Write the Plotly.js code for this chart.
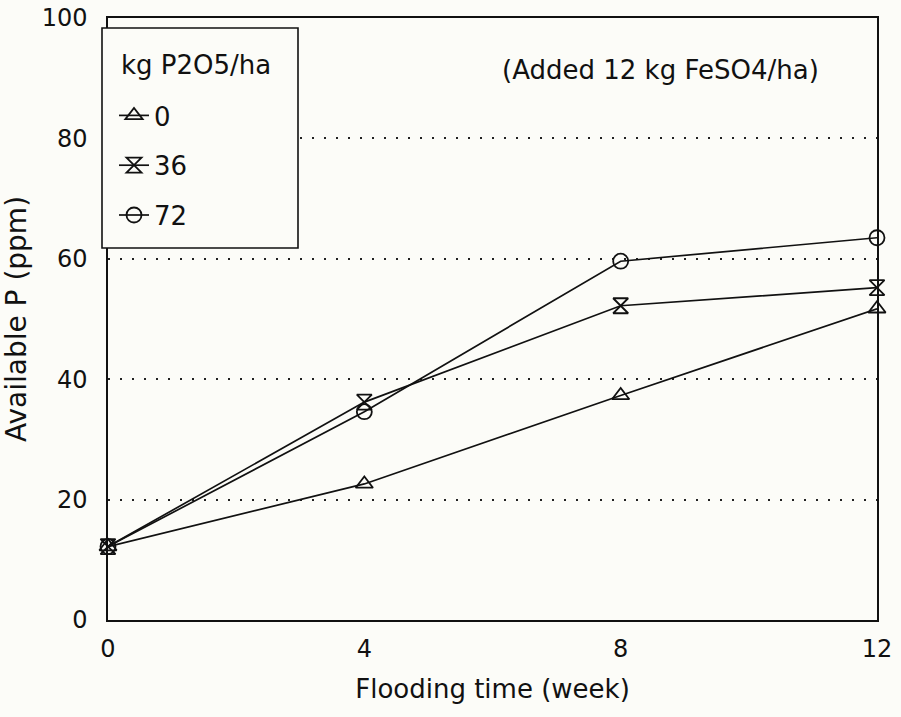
<!DOCTYPE html>
<html>
<head>
<meta charset="utf-8">
<script src="https://cdn.plot.ly/plotly-3.0.1.min.js"></script>
<style>html,body{margin:0;padding:0;background:#fcfcf8;}#chart{width:901px;height:717px;}</style>
</head>
<body>
<div id="chart"></div>
<script>
const weeks = [0, 4, 8, 12];
const seriesNames = ["0", "36", "72"];
const p0 = [12.2, 22.6, 37.3, 51.7];
const p36 = [12.2, 36.2, 52.2, 55.2];
const p72 = [12.2, 34.6, 59.6, 63.5];
const xTicks = [0, 4, 8, 12];
const yTicks = [0, 20, 40, 60, 80, 100];
const legendTitle = "kg P2O5/ha";
const note = "(Added 12 kg FeSO4/ha)";

const symbols = ["triangle-up-open", "hourglass-open", "circle-open"];
const values = [p0, p36, p72];

const traces = values.map((v, i) => ({
  x: weeks, y: v, name: seriesNames[i], type: "scatter", mode: "lines+markers",
  legendgroup: "g" + i,
  line: {color: "#111", width: 1.7},
  marker: {symbol: symbols[i], size: 15, color: "#111", line: {color: "#111", width: 1.8}},
  cliponaxis: false
}));

const font = "DejaVu Sans, Liberation Sans, sans-serif";
const W = 901, H = 717, ML = 108, MR = 24, MT = 18, MB = 97;
const pw = W - ML - MR, ph = H - MT - MB;
const px = x => (x - ML) / pw;
const py = y => (H - MB - y) / ph;

const layout = {
  width: W, height: H,
  paper_bgcolor: "#fcfcf8", plot_bgcolor: "#fcfcf8",
  font: {family: font, color: "#111", size: 24},
  margin: {l: ML, r: MR, t: MT, b: MB},
  showlegend: true,
  legend: {
    x: px(114), y: py(92), xanchor: "left", yanchor: "top",
    borderwidth: 0, bgcolor: "rgba(0,0,0,0)",
    font: {family: font, size: 26, color: "#111"},
    traceorder: "grouped", tracegroupgap: 13, itemwidth: 30
  },
  xaxis: {
    range: [0, 12], tickvals: xTicks, ticks: "", showgrid: false, zeroline: false,
    showline: true, linecolor: "#111", linewidth: 1.7, mirror: true,
    tickfont: {size: 24}, ticklabelstandoff: 6,
    title: {text: "Flooding time (week)", font: {size: 26}, standoff: 18}
  },
  yaxis: {
    range: [0, 100], tickvals: yTicks, ticks: "", zeroline: false,
    showline: true, linecolor: "#111", linewidth: 1.7, mirror: true,
    showgrid: true, gridcolor: "#222", gridwidth: 2, griddash: "2px,10px",
    tickfont: {size: 24}, ticklabelstandoff: 14,
    title: {text: "Available P (ppm)", font: {size: 28}, standoff: 8}
  },
  shapes: [{
    type: "rect", xref: "paper", yref: "paper",
    x0: px(102), x1: px(298), y0: py(248), y1: py(28),
    line: {color: "#111", width: 1.6}, fillcolor: "#fcfcf8", layer: "above"
  }],
  annotations: [
    {xref: "paper", yref: "paper", x: px(119), y: py(65), xanchor: "left", yanchor: "middle",
     text: legendTitle, showarrow: false, font: {family: font, size: 26, color: "#111"}},
    {xref: "paper", yref: "paper", x: px(821), y: py(70), xanchor: "right", yanchor: "middle",
     text: note, showarrow: false, font: {family: font, size: 26, color: "#111"}}
  ]
};

Plotly.newPlot("chart", traces, layout, {displayModeBar: false, staticPlot: true});
</script>
</body>
</html>
